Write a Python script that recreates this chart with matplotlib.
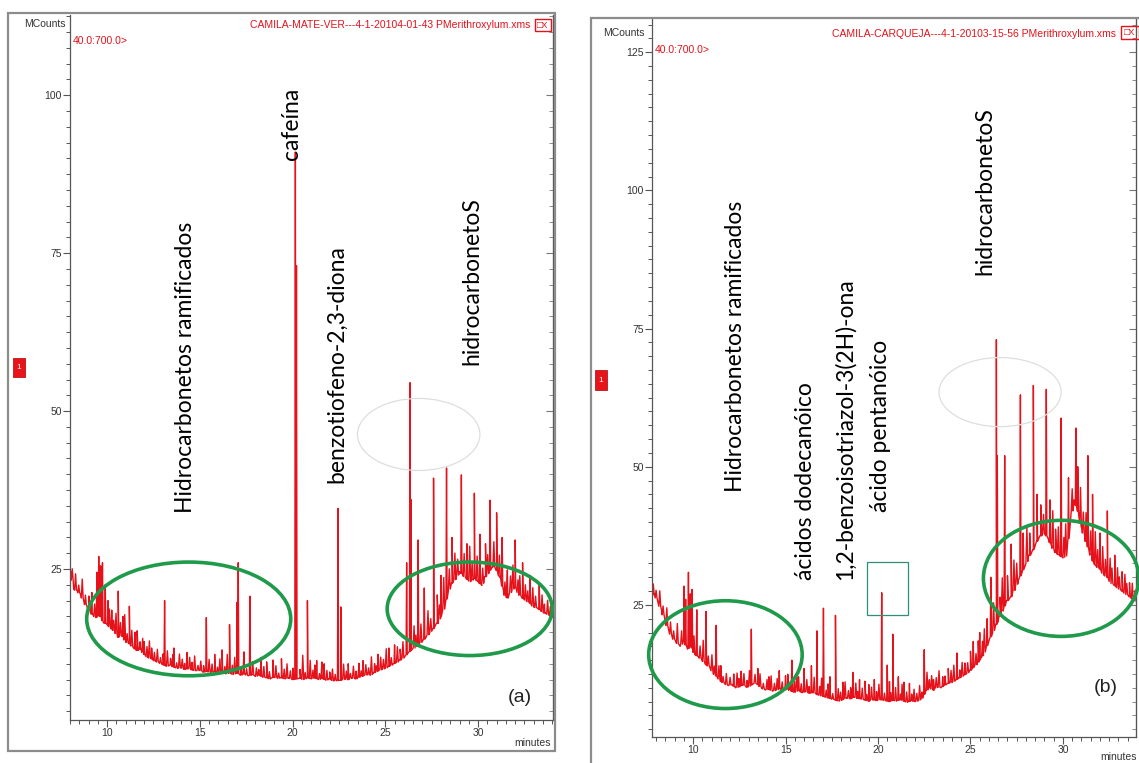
import numpy as np
import matplotlib
matplotlib.use('Agg')
import matplotlib.pyplot as plt
from matplotlib.patches import Ellipse, Rectangle
from matplotlib.ticker import MultipleLocator

W, H = 1139, 763

# ---- painel (a): linha de base e picos ----
base_a_t = [8.05, 8.2, 8.4, 8.6, 8.8, 9.0, 9.2, 9.4, 9.6, 9.8, 10.0, 10.2, 10.4, 10.6, 10.8, 11.0,
            11.2, 11.4, 11.6, 11.8, 12.0, 12.2, 12.4, 12.6, 12.8, 13.0, 13.2, 13.4, 13.6, 13.8,
            14.0, 14.2, 14.4, 14.6, 14.8, 15.0, 15.2, 15.4, 15.6, 15.8, 16.0, 16.2, 16.4, 16.6,
            16.8, 17.0, 17.2, 17.4, 17.6, 17.8, 18.0, 18.2, 18.4, 18.6, 18.8, 19.0, 19.2, 19.4,
            19.6, 19.8, 20.0, 20.4, 20.6, 20.8, 21.0, 21.2, 21.4, 21.6, 21.8, 22.0, 22.2, 22.6,
            22.8, 23.0, 23.2, 23.4, 23.6, 23.8, 24.0, 24.2, 24.4, 24.6, 24.8, 25.0, 25.2, 25.4,
            25.6, 25.8, 26.0, 26.2, 26.4, 26.6, 26.8, 27.0, 27.2, 27.4, 27.6, 27.8, 28.0, 28.2,
            28.4, 28.6, 28.8, 29.0, 29.2, 29.4, 29.6, 29.8, 30.0, 30.2, 30.4, 30.6, 30.8, 31.0,
            31.2, 31.4, 31.6, 31.8, 32.0, 32.2, 32.4, 32.6, 32.8, 33.0, 33.2, 33.4, 33.6, 33.8, 34.0]
base_a_v = [24.5, 21.8, 21.5, 20.8, 19.5, 18.6, 17.8, 17.3, 17.8, 16.5, 16.3, 15.6, 15.2, 14.2, 14.6, 13.5,
            13.2, 12.6, 12.1, 12.3, 11.5, 11.0, 10.8, 10.4, 10.2, 9.9, 9.6, 9.8, 9.5, 9.3,
            9.4, 9.1, 9.3, 9.0, 8.9, 9.0, 8.7, 8.8, 8.6, 8.8, 8.5, 8.7, 8.4, 8.6,
            8.3, 8.6, 8.2, 8.4, 8.1, 8.3, 8.0, 8.2, 7.9, 7.8, 7.6, 7.9, 7.7, 7.8,
            7.6, 7.8, 7.5, 7.7, 7.5, 7.8, 7.6, 7.8, 7.5, 7.7, 7.4, 7.6, 7.3, 7.4,
            7.6, 7.5, 7.8, 7.6, 7.9, 8.1, 8.3, 8.2, 8.6, 8.9, 9.1, 9.3, 9.6, 9.9,
            10.2, 10.6, 11.0, 11.6, 12.2, 12.6, 13.1, 13.6, 14.2, 15.0, 15.6, 16.4, 17.6, 19.0,
            21.5, 22.8, 23.5, 24.6, 24.0, 23.4, 23.0, 23.6, 23.0, 22.4, 23.8, 24.6, 25.5, 24.8,
            23.6, 21.0, 20.4, 21.6, 22.2, 21.0, 20.4, 20.0, 19.6, 19.0, 18.8, 18.4, 18.0, 17.8, 17.4]
peak_a_t = [9.45, 9.55, 9.65, 9.75, 9.9, 10.05, 10.25, 10.6, 10.85, 11.2, 11.5, 12.0, 12.4, 13.1,
            13.6, 14.3, 15.35, 15.8, 16.2, 16.6, 17.0, 17.07, 17.7, 18.3, 18.95, 19.4, 20.15, 20.21,
            20.8, 21.3, 21.7, 22.45, 22.6, 23.0, 23.8, 24.6, 25.2, 25.5, 26.15, 26.33, 26.38, 26.77,
            27.1, 27.6, 28.0, 28.3, 28.6, 29.1, 29.4, 29.8, 30.1, 30.65, 31.0, 31.3, 32.0, 32.4,
            32.8, 33.3]
peak_a_v = [24.5, 27.0, 25.5, 26.0, 22.5, 20.0, 18.5, 21.5, 17.5, 19.1, 15.0, 13.5, 12.5, 20.0,
            12.5, 11.8, 17.3, 11.5, 12.2, 16.2, 19.7, 26.0, 20.7, 11.0, 10.6, 10.8, 91.0, 73.0,
            20.0, 10.5, 10.0, 34.6, 19.0, 10.0, 10.5, 11.5, 12.5, 13.0, 26.0, 54.5, 36.0, 29.6,
            22.0, 39.4, 24.0, 41.0, 30.0, 39.9, 29.0, 37.0, 30.5, 35.9, 33.9, 30.0, 29.6, 26.0,
            24.0, 22.5]
# ruído (pequenos picos, altura acima da linha de base)
grass_a_t = [8.12, 8.3, 8.47, 8.66, 8.83, 9.02, 9.18, 9.33, 10.12, 10.35,
             10.48, 10.72, 10.95, 11.08, 11.33, 11.62, 11.78, 11.92, 12.15, 12.28,
             12.55, 12.71, 12.88, 13.02, 13.25, 13.42, 13.55, 13.75, 13.9, 14.05,
             14.18, 14.45, 14.58, 14.72, 14.9, 15.05, 15.2, 15.5, 15.66, 15.95,
             16.08, 16.35, 16.48, 16.75, 16.88, 17.22, 17.38, 17.52, 17.85, 18.05,
             18.18, 18.45, 18.6, 18.75, 19.1, 19.25, 19.55, 19.7, 19.88, 20.02,
             20.4, 20.55, 20.68, 20.95, 21.1, 21.2, 21.45, 21.58, 21.85, 22.0,
             22.15, 22.3, 22.75, 22.9, 23.12, 23.28, 23.42, 23.58, 23.7, 23.95,
             24.1, 24.25, 24.42, 24.52, 24.75, 24.9, 25.05, 25.32, 25.65, 25.8,
             25.95, 26.55, 26.65, 26.92, 27.3, 27.45, 27.8, 27.92, 28.15, 28.45,
             28.75, 28.9, 29.25, 29.55, 29.68, 29.95, 30.25, 30.4, 30.52, 30.85,
             31.15, 31.45, 31.58, 31.75, 31.88, 32.15, 32.25, 32.55, 32.68, 32.95,
             33.1, 33.45, 33.58, 33.75, 33.9]
grass_a_h = [1.8, 2.6, 1.2, 3.0, 1.5, 2.2, 3.4, 2.0, 2.8, 1.6,
             3.2, 2.1, 4.0, 1.4, 2.5, 3.1, 1.2, 2.2, 1.6, 2.7,
             1.3, 2.0, 0.9, 1.7, 2.4, 1.1, 1.9, 0.8, 2.2, 1.4,
             0.9, 1.8, 1.2, 2.3, 0.8, 1.5, 1.0, 2.0, 1.3, 0.9,
             2.2, 1.1, 3.0, 1.4, 2.6, 1.2, 3.5, 1.0, 2.1, 1.3,
             0.9, 1.7, 2.5, 1.1, 1.9, 0.8, 1.5, 2.3, 1.2, 1.8,
             1.4, 3.8, 1.0, 2.9, 1.3, 2.0, 0.9, 2.6, 1.5, 1.1,
             1.8, 1.0, 2.4, 1.3, 0.8, 1.9, 1.2, 2.2, 0.9, 1.6,
             1.1, 2.8, 1.4, 0.9, 2.0, 1.5, 3.0, 1.2, 2.4, 1.7,
             2.6, 3.5, 1.8, 2.9, 3.8, 2.0, 4.5, 2.2, 5.0, 3.2,
             4.2, 2.5, 3.6, 5.5, 2.8, 3.9, 2.4, 5.2, 3.0, 4.0,
             3.3, 2.1, 4.4, 2.6, 3.8, 2.0, 3.1, 2.4, 1.7, 2.9,
             1.8, 2.6, 1.4, 2.2, 1.5]

# ---- painel (b) ----
base_b_t = [7.78, 7.9, 8.1, 8.3, 8.5, 8.7, 8.9, 9.1, 9.3, 9.5, 9.7, 9.9, 10.1, 10.3, 10.5, 10.7,
            10.9, 11.1, 11.3, 11.5, 11.7, 11.9, 12.1, 12.3, 12.5, 12.7, 12.9, 13.1, 13.3, 13.5,
            13.7, 13.9, 14.1, 14.3, 14.5, 14.7, 14.9, 15.1, 15.3, 15.5, 15.7, 15.9, 16.1, 16.3,
            16.5, 16.7, 16.9, 17.1, 17.3, 17.5, 17.7, 17.9, 18.1, 18.3, 18.5, 18.7, 18.9, 19.1,
            19.3, 19.5, 19.7, 19.9, 20.1, 20.4, 20.6, 20.8, 21.0, 21.2, 21.4, 21.6, 21.8, 22.0,
            22.2, 22.4, 22.6, 22.8, 23.0, 23.2, 23.4, 23.6, 23.8, 24.0, 24.2, 24.4, 24.6, 24.8,
            25.0, 25.2, 25.4, 25.6, 25.8, 26.0, 26.2, 26.4, 26.6, 26.8, 27.0, 27.2, 27.4, 27.6,
            27.8, 28.0, 28.2, 28.4, 28.6, 28.8, 29.0, 29.2, 29.4, 29.6, 29.8, 30.0, 30.2, 30.4,
            30.6, 30.8, 31.0, 31.2, 31.4, 31.6, 31.8, 32.0, 32.2, 32.4, 32.6, 32.8, 33.0, 33.2,
            33.4, 33.6, 33.8, 34.0]
base_b_v = [26.5, 27.0, 25.5, 24.0, 22.0, 20.2, 19.0, 18.2, 17.5, 18.5, 17.0, 17.6, 16.0, 15.6, 15.0, 14.2,
            13.8, 12.6, 12.0, 11.2, 10.8, 10.4, 10.6, 10.0, 10.2, 10.6, 10.1, 10.4, 10.9, 10.6,
            10.0, 9.6, 9.8, 9.4, 9.6, 9.9, 9.5, 9.8, 9.4, 9.2, 9.6, 9.1, 9.4, 9.0,
            9.2, 8.8, 8.6, 8.4, 8.2, 8.0, 7.8, 7.6, 7.9, 8.2, 8.0, 8.4, 8.1, 8.0,
            7.8, 7.6, 7.9, 7.7, 7.9, 7.7, 7.5, 7.8, 7.6, 7.9, 7.6, 7.4, 7.7, 7.5,
            7.7, 8.2, 9.5, 10.0, 9.6, 10.2, 10.0, 10.5, 10.8, 11.0, 11.4, 11.8, 12.2, 12.6,
            13.2, 13.8, 14.6, 15.5, 16.8, 18.5, 20.0, 21.5, 23.0, 24.5, 25.8, 26.5, 28.0, 29.5,
            31.0, 32.5, 34.0, 35.0, 36.5, 37.5, 38.0, 37.0, 35.5, 34.5, 34.0, 33.5, 34.0, 40.0,
            44.0, 42.0, 39.0, 37.0, 35.0, 33.0, 32.0, 31.5, 30.5, 30.0, 29.0, 28.5, 28.0, 27.5,
            27.0, 26.5, 26.0, 25.5]
peak_b_t = [9.5, 9.6, 9.75, 9.85, 9.95, 10.2, 10.7, 11.25, 11.5, 12.2, 12.6, 13.15, 13.5, 14.1,
            14.66, 15.0, 15.34, 15.7, 16.0, 16.4, 16.7, 17.05, 17.4, 17.7, 18.1, 18.64, 19.0, 19.5,
            19.8, 20.2, 20.5, 20.8, 21.1, 21.4, 21.7, 22.5, 23.0, 23.5, 23.8, 24.27, 24.7, 25.15,
            25.5, 25.9, 26.1, 26.4, 26.45, 26.85, 27.2, 27.7, 27.85, 28.4, 28.6, 29.1, 29.3, 29.9,
            30.3, 30.7, 30.8, 31.35, 31.6, 32.0, 32.4, 32.8, 33.2, 33.6]
peak_b_v = [28.4, 26.0, 30.9, 27.0, 27.8, 24.1, 23.8, 21.3, 14.0, 12.5, 13.0, 20.6, 13.5, 12.0,
            13.1, 12.2, 15.0, 12.0, 13.5, 14.0, 20.3, 24.4, 12.0, 23.1, 11.0, 12.8, 11.5, 10.6,
            11.5, 27.2, 14.1, 19.7, 12.0, 11.0, 10.8, 16.9, 11.5, 12.0, 13.5, 16.3, 14.5, 18.4,
            20.0, 22.5, 30.0, 73.0, 52.0, 52.0, 36.0, 63.0, 38.0, 64.7, 45.0, 64.0, 44.0, 58.8,
            48.0, 57.0, 50.0, 52.0, 45.0, 38.0, 42.0, 34.0, 31.0, 29.0]
grass_b_t = [7.85, 8.0, 8.2, 8.38, 8.58, 8.78, 8.95, 9.15, 9.38, 10.05,
             10.38, 10.55, 10.82, 11.02, 11.15, 11.4, 11.62, 11.8, 12.0, 12.38,
             12.48, 12.75, 12.92, 13.05, 13.35, 13.62, 13.8, 14.0, 14.22, 14.4,
             14.55, 14.82, 15.12, 15.22, 15.48, 15.6, 15.85, 16.15, 16.28, 16.55,
             16.85, 16.95, 17.2, 17.3, 17.55, 17.85, 17.98, 18.22, 18.4, 18.52,
             18.8, 18.9, 19.15, 19.3, 19.4, 19.65, 19.92, 20.05, 20.35, 20.62,
             20.7, 20.95, 21.22, 21.3, 21.55, 21.82, 21.95, 22.1, 22.25, 22.38,
             22.65, 22.78, 22.9, 23.15, 23.3, 23.62, 23.95, 24.1, 24.42, 24.55,
             24.85, 25.0, 25.3, 25.42, 25.65, 25.75, 26.25, 26.6, 26.72, 27.0,
             27.35, 27.5, 28.05, 28.2, 28.8, 28.95, 29.45, 29.6, 29.75, 30.05,
             30.15, 30.5, 30.95, 31.1, 31.25, 31.5, 31.75, 31.88, 32.15, 32.3,
             32.55, 32.65, 32.95, 33.05, 33.35, 33.45, 33.75, 33.9]
grass_b_h = [2.0, 1.4, 2.8, 1.6, 3.2, 2.2, 1.5, 3.6, 2.4, 3.0,
             2.2, 3.8, 1.8, 2.9, 1.5, 2.4, 1.1, 2.0, 1.4, 2.6,
             1.5, 2.1, 1.2, 2.8, 1.6, 2.3, 1.0, 1.8, 2.6, 1.3,
             2.0, 1.4, 2.7, 1.1, 1.9, 3.0, 1.5, 2.2, 1.2, 2.8,
             1.6, 3.2, 1.3, 2.5, 1.0, 2.2, 1.5, 3.0, 1.4, 2.0,
             2.6, 1.2, 2.0, 3.4, 1.1, 2.3, 1.6, 2.8, 1.3, 3.6,
             1.5, 2.4, 1.0, 2.9, 1.8, 1.2, 2.2, 1.4, 2.6, 1.1,
             3.2, 1.5, 2.4, 1.8, 3.0, 1.6, 2.2, 2.9, 1.4, 2.5,
             1.8, 3.4, 2.0, 3.8, 2.6, 4.2, 5.0, 3.4, 6.0, 4.5,
             5.5, 3.8, 6.2, 4.0, 5.6, 3.5, 6.8, 4.2, 5.0, 3.6,
             5.8, 4.0, 6.5, 3.8, 5.2, 4.4, 6.0, 3.2, 4.8, 3.0,
             4.2, 2.8, 3.6, 2.2, 3.4, 2.0, 2.8, 1.9]

red = '#e5121b'
green = '#1f9a4a'
label_font = ['Lato', 'DejaVu Sans']
tick_font = ['Liberation Sans', 'DejaVu Sans']


def trace(bt, bv, pt, pv, gt, gh):
    # linha de base + picos estreitos (pe do pico na linha de base) + ruído
    t = list(bt)
    v = list(bv)
    foot = np.interp(pt, bt, bv)
    for x, h, f in zip(pt, pv, foot):
        t += [x - 0.03, x, x + 0.03]
        v += [f, h, f]
    gfoot = np.interp(gt, bt, bv)
    for x, h, f in zip(gt, gh, gfoot):
        t += [x - 0.05, x, x + 0.05]
        v += [f, f + h, f]
    idx = np.argsort(t, kind='stable')
    return np.array(t)[idx], np.array(v)[idx]


def px(x0, y0, x1, y1):
    return [x0 / W, 1 - y1 / H, (x1 - x0) / W, (y1 - y0) / H]


fig = plt.figure(figsize=(W / 100, H / 100), dpi=100)


def panel(rect, frame, xlim, ylim, yticks, title, mc_xy, rng_xy, icon, one_box, minutes_xy):
    fx0, fy0, fx1, fy1 = frame
    fig.add_artist(Rectangle((fx0 / W, 1 - fy1 / H), (fx1 - fx0) / W, (fy1 - fy0) / H,
                             transform=fig.transFigure, fill=False, ec='#8c8c8c', lw=1.6))
    ax = fig.add_axes(px(*rect))
    ax.set_xlim(*xlim)
    ax.set_ylim(*ylim)
    ax.spines['top'].set_visible(False)
    for s in ['left', 'bottom', 'right']:
        ax.spines[s].set_color('#555555')
        ax.spines[s].set_linewidth(0.9)
    ax.xaxis.set_major_locator(MultipleLocator(5))
    ax.xaxis.set_minor_locator(MultipleLocator(0.5))
    ax.set_yticks(yticks)
    ax.yaxis.set_minor_locator(MultipleLocator(2.5))
    ax.tick_params(which='both', direction='out', colors='#555555', labelcolor='#333333',
                   labelsize=7.5, right=False, top=False, pad=1)
    ax.tick_params(which='major', length=5, width=0.8)
    ax.tick_params(which='minor', length=3, width=0.7)
    for lab in ax.get_xticklabels() + ax.get_yticklabels():
        lab.set_family(tick_font)
    sec = ax.secondary_yaxis('right')
    sec.set_yticks(yticks)
    sec.yaxis.set_minor_locator(MultipleLocator(2.5))
    sec.tick_params(which='both', direction='in', labelright=False, colors='#777777')
    sec.tick_params(which='major', length=5)
    sec.tick_params(which='minor', length=3)
    sec.spines['right'].set_color('#666666')

    fig.text(mc_xy[0] / W, 1 - mc_xy[1] / H, 'MCounts', ha='right', va='center',
             fontsize=7.5, color='#333333', family=tick_font)
    fig.text(rng_xy[0] / W, 1 - rng_xy[1] / H, '40.0:700.0>', ha='left', va='center',
             fontsize=7.5, color=red, family=tick_font)
    fig.text(title[1] / W, 1 - title[2] / H, title[0], ha='right', va='center',
             fontsize=7.5, color=red, family=tick_font)
    ix0, iy0, ix1, iy1 = icon
    fig.add_artist(Rectangle((ix0 / W, 1 - iy1 / H), (ix1 - ix0) / W, (iy1 - iy0) / H,
                             transform=fig.transFigure, fill=False, ec=red, lw=1))
    fig.text((ix0 + ix1) / 2 / W, 1 - (iy0 + iy1) / 2 / H, '\u25a1X', ha='center', va='center',
             fontsize=6.5, color=red, family=tick_font)
    bx0, by0, bx1, by1 = one_box
    fig.add_artist(Rectangle((bx0 / W, 1 - by1 / H), (bx1 - bx0) / W, (by1 - by0) / H,
                             transform=fig.transFigure, fc='#e8141c', ec='#b00000', lw=0.5))
    fig.text((bx0 + bx1) / 2 / W, 1 - (by0 + by1) / 2 / H, '1', ha='center', va='center',
             fontsize=6, color='white', family=tick_font)
    fig.text(minutes_xy[0] / W, 1 - minutes_xy[1] / H, 'minutes', ha='right', va='center',
             fontsize=7.5, color='#333333', family=tick_font)
    return ax


def ell(ax, c, w, h, color, lw):
    ax.add_patch(Ellipse(c, w, h, fill=False, ec=color, lw=lw, clip_on=False, zorder=5))


def lab(ax, x, y, s, size=16.5):
    ax.text(x, y, s, rotation=90, ha='center', va='bottom', fontsize=size,
            family=label_font, color='black', zorder=6)


# ---- (a) ----
ax1 = panel((70, 15, 553, 720), (8, 13, 555, 751), (8.0, 34.04), (1.1, 112.7), [25, 50, 75, 100],
            ('CAMILA-MATE-VER---4-1-20104-01-43 PMerithroxylum.xms', 530, 25),
            (66, 24), (73, 41), (535, 19, 551, 31), (13, 358, 25, 377), (551, 743))
ta, va_ = trace(base_a_t, base_a_v, peak_a_t, peak_a_v, grass_a_t, grass_a_h)
ax1.plot(ta, va_, color=red, lw=1.0)
ell(ax1, (14.4, 17.1), 11.0, 18.0, green, 2.6)
ell(ax1, (29.55, 18.7), 8.9, 14.8, green, 2.6)
ell(ax1, (26.8, 46.3), 6.6, 11.4, '#dedede', 0.9)
lab(ax1, 14.2, 33.9, 'Hidrocarbonetos ramificados')
lab(ax1, 19.92, 89.7, 'cafeína')
lab(ax1, 22.4, 38.6, 'benzotiofeno-2,3-diona')
lab(ax1, 29.68, 57.3, 'hidrocarbonetoS')
ax1.text(32.26, 4.6, '(a)', ha='center', va='center', fontsize=14, family=tick_font, color='#222222')

# ---- (b) ----
ax2 = panel((652, 19, 1136, 737), (591, 18, 1150, 775), (7.78, 33.95), (1.1, 131), [25, 50, 75, 100, 125],
            ('CAMILA-CARQUEJA---4-1-20103-15-56 PMerithroxylum.xms', 1116, 34),
            (645, 33), (655, 50), (1121, 26, 1139, 39), (595, 370, 607, 390), (1137, 757))
tb, vb = trace(base_b_t, base_b_v, peak_b_t, peak_b_v, grass_b_t, grass_b_h)
ax2.plot(tb, vb, color=red, lw=1.0)
ell(ax2, (11.75, 16.0), 8.3, 19.5, green, 2.6)
ell(ax2, (29.9, 29.8), 8.4, 21.0, green, 2.6)
ell(ax2, (26.6, 63.5), 6.6, 12.5, '#dedede', 0.9)
ax2.add_patch(Rectangle((19.4, 23.1), 2.2, 9.7, fill=False, ec='#2f8f7a', lw=0.9, zorder=5))
lab(ax2, 12.32, 45.4, 'Hidrocarbonetos ramificados')
lab(ax2, 16.1, 29.5, 'ácidos dodecanóico')
lab(ax2, 18.2, 29.5, '1,2-benzoisotriazol-3(2H)-ona')
lab(ax2, 20.16, 41.8, 'ácido pentanóico')
lab(ax2, 25.8, 84.7, 'hidrocarbonetoS')
ax2.text(32.3, 10.0, '(b)', ha='center', va='center', fontsize=14, family=tick_font, color='#222222')

fig.savefig('out.png', dpi=100)
